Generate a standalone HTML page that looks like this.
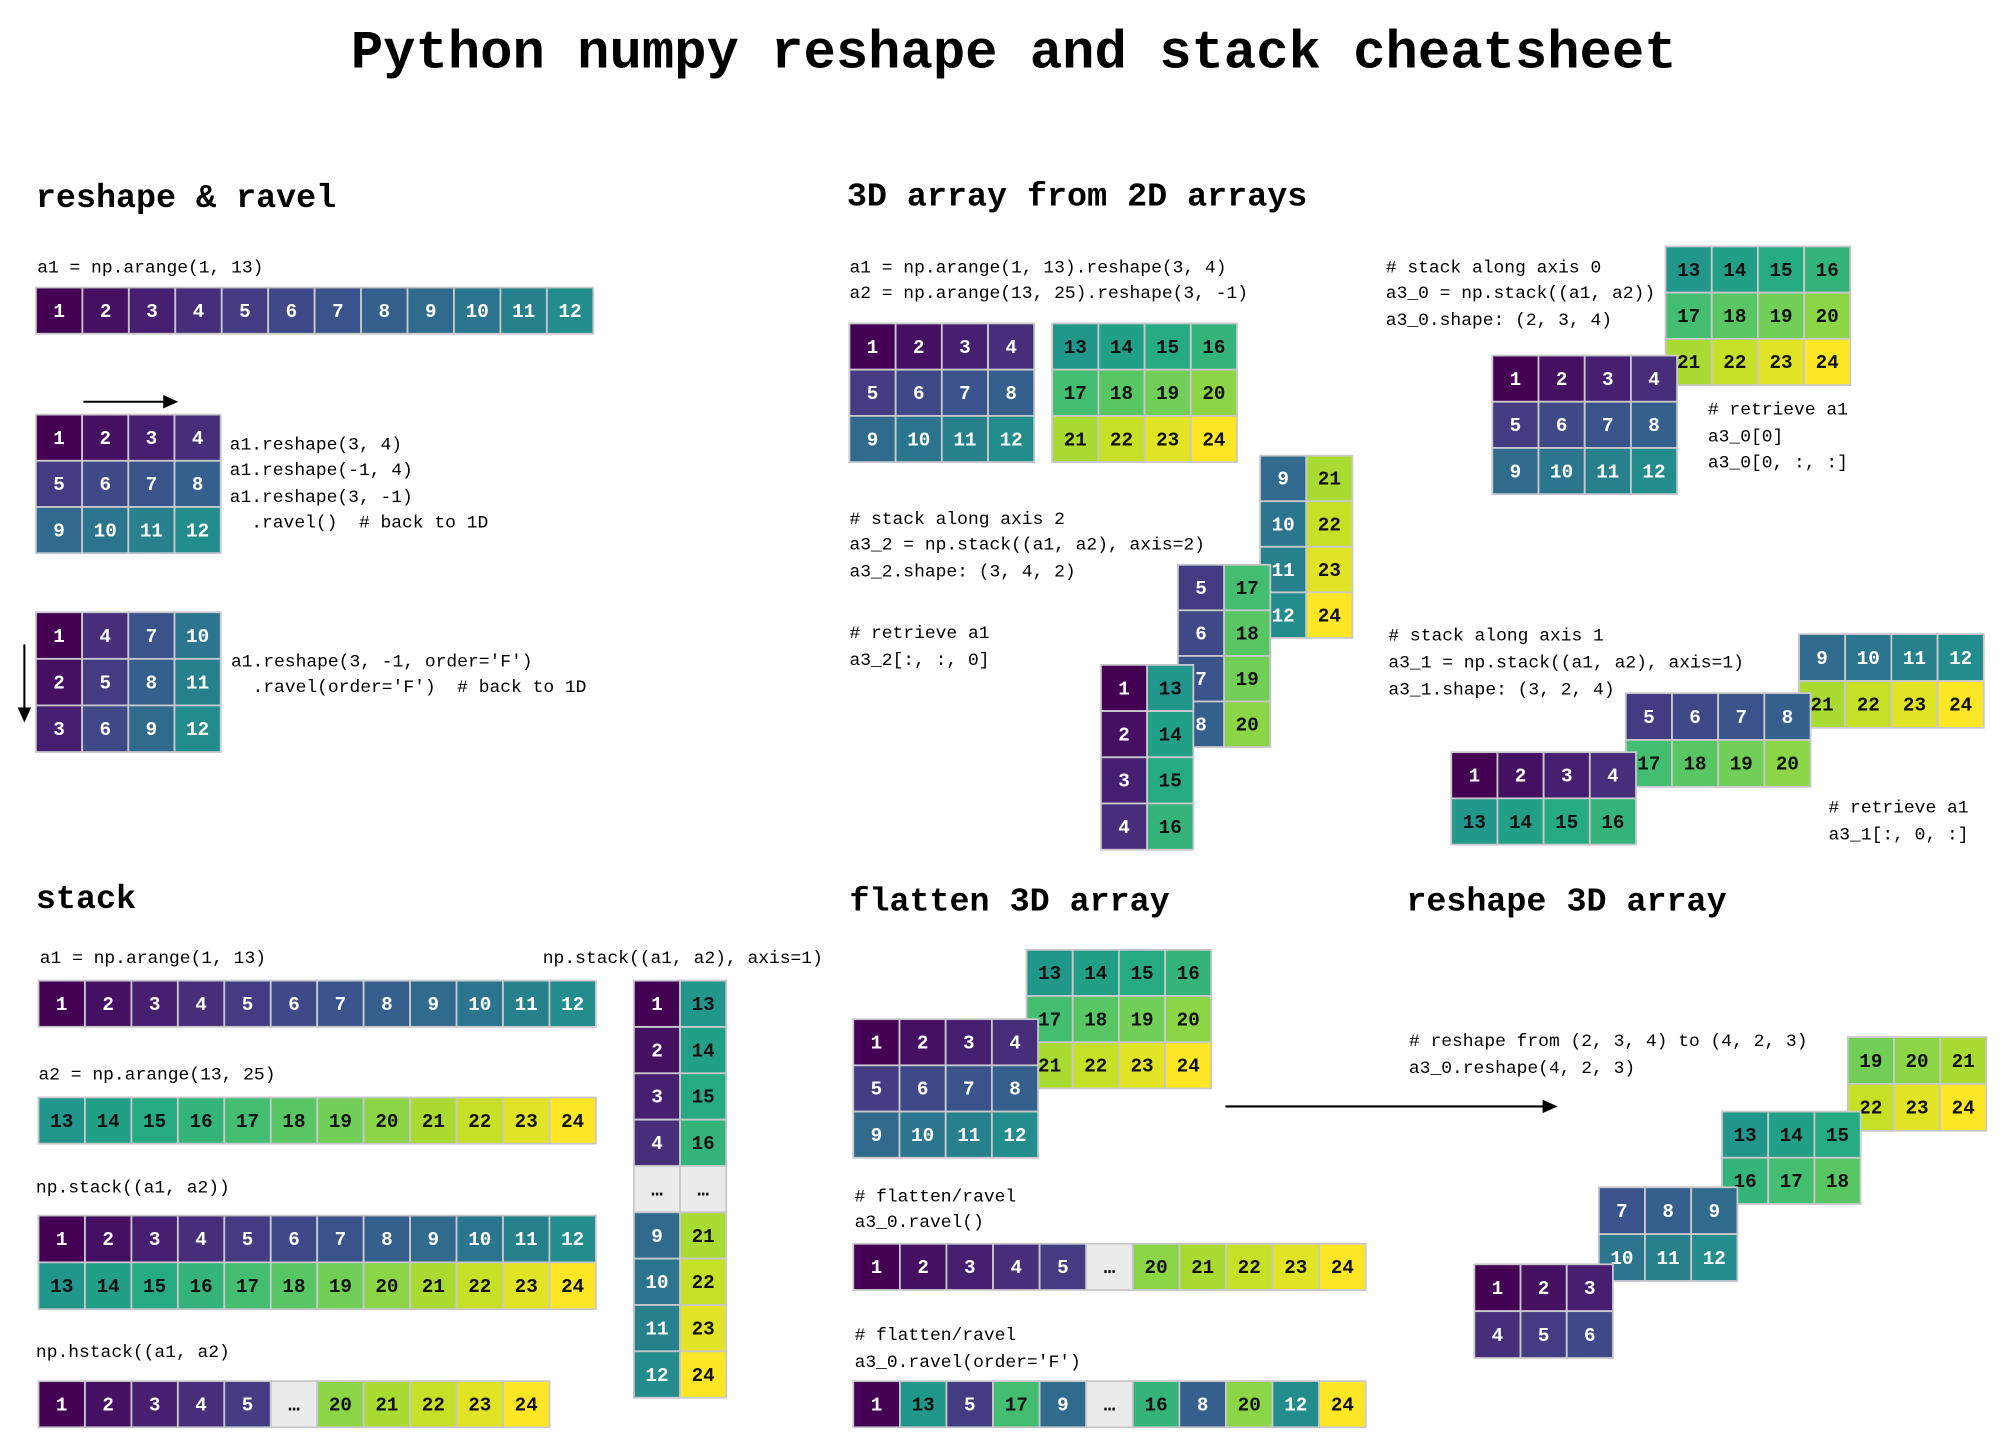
<!DOCTYPE html>
<html><head><meta charset="utf-8"><style>
html,body{margin:0;padding:0;background:#fff;}
svg{display:block;}
text{font-family:"Liberation Mono",monospace;}
</style></head><body>
<svg id="sheet" width="2012" height="1444" viewBox="0 0 1568 1125" preserveAspectRatio="none" xmlns="http://www.w3.org/2000/svg">
<rect width="1568" height="1125" fill="#fff"/>
<text x="790" y="42" font-size="42" font-weight="bold" text-anchor="middle" dominant-baseline="central">Python numpy reshape and stack cheatsheet</text>
<g id="texts"></g>
<g id="cells"></g>
<g id="arrows" stroke="#000" stroke-width="1.6" fill="#000">
<line x1="65" y1="313" x2="130" y2="313"/><polygon points="137,313 128,309 128,317"/>
<line x1="19" y1="502" x2="19" y2="553"/><polygon points="19,561 15,552 23,552"/>
<line x1="955" y1="862" x2="1204" y2="862"/><polygon points="1212,862 1203,858 1203,866"/>
</g>
</svg>
<script>
// ---- data arrays ----
const rowA1 = [1,2,3,4,5,6,7,8,9,10,11,12];
const rowA2 = [13,14,15,16,17,18,19,20,21,22,23,24];
const gridC = [[1,2,3,4],[5,6,7,8],[9,10,11,12]];
const gridF = [[1,4,7,10],[2,5,8,11],[3,6,9,12]];
const gridA2 = [[13,14,15,16],[17,18,19,20],[21,22,23,24]];
const ax2Back = [[9,21],[10,22],[11,23],[12,24]];
const ax2Mid = [[5,17],[6,18],[7,19],[8,20]];
const ax2Front = [[1,13],[2,14],[3,15],[4,16]];
const ax1Back = [[9,10,11,12],[21,22,23,24]];
const ax1Mid = [[5,6,7,8],[17,18,19,20]];
const ax1Front = [[1,2,3,4],[13,14,15,16]];
const hstackRow = [1,2,3,4,5,'…',20,21,22,23,24];
const stackCol = [[1,13],[2,14],[3,15],[4,16],['…','…'],[9,21],[10,22],[11,23],[12,24]];
const ravelC = [1,2,3,4,5,'…',20,21,22,23,24];
const ravelF = [1,13,5,17,9,'…',16,8,20,12,24];
const rs0 = [[19,20,21],[22,23,24]];
const rs1 = [[13,14,15],[16,17,18]];
const rs2 = [[7,8,9],[10,11,12]];
const rs3 = [[1,2,3],[4,5,6]];

const NS = "http://www.w3.org/2000/svg";
const vstops = ["#440154","#482475","#414487","#355f8d","#2a788e","#21918c","#22a884","#44bf70","#7ad151","#bddf26","#fde725"];
function hex(h){return [parseInt(h.substr(1,2),16),parseInt(h.substr(3,2),16),parseInt(h.substr(5,2),16)];}
function viridis(t){
  t=Math.max(0,Math.min(1,t))*10; const i=Math.min(9,Math.floor(t)); const f=t-i;
  const a=hex(vstops[i]), b=hex(vstops[i+1]);
  return "rgb("+a.map((v,k)=>Math.round(v+(b[k]-v)*f)).join(",")+")";
}
const cellsG = document.getElementById('cells');
function cell(x,y,w,h,v){
  const g=document.createElementNS(NS,'g');
  
  
  const r=document.createElementNS(NS,'rect');
  r.setAttribute('x',x);r.setAttribute('y',y);r.setAttribute('width',w);r.setAttribute('height',h);
  r.setAttribute('fill', v==='…' ? '#ebebeb' : viridis((v-1)/23));
  r.setAttribute('stroke','#c8c8cc');r.setAttribute('stroke-width','1.4');
  g.appendChild(r);
  const t=document.createElementNS(NS,'text');
  t.setAttribute('x',x+w/2);t.setAttribute('y',y+h/2+1);
  t.setAttribute('text-anchor','middle');t.setAttribute('dominant-baseline','central');
  t.setAttribute('font-size','15');t.setAttribute('font-weight','bold');
  t.setAttribute('fill', (v==='…'||v>=13)?'#111':'#fff');
  t.textContent=v;
  g.appendChild(t);
  cellsG.appendChild(g);
}
function grid(x,y,rows,w,h){
  w=w||36; h=h||36;
  rows.forEach((row,i)=>row.forEach((v,j)=>cell(x+j*w,y+i*h,w,h,v)));
}
const textsG=document.getElementById('texts');
function txt(x,y,s,size,bold,name){
  const t=document.createElementNS(NS,'text');
  t.setAttribute('x',x);t.setAttribute('y',y);t.setAttribute('dominant-baseline','central');
  t.setAttribute('font-size',size||14);
  if(bold)t.setAttribute('font-weight','bold');
  t.setAttribute('xml:space','preserve');
  t.style.whiteSpace='pre';
  
  
  t.textContent=s;
  textsG.appendChild(t);
}
// headings
txt(28,155,"reshape & ravel",26,true,'heading-reshape-ravel');
txt(660,154,"3D array from 2D arrays",26,true,'heading-3d-from-2d');
txt(28,701,"stack",26,true,'heading-stack');
txt(662,703,"flatten 3D array",26,true,'heading-flatten');
txt(1096,703,"reshape 3D array",26,true,'heading-reshape-3d');
// code texts
[[29,209,"a1 = np.arange(1, 13)"],[179,347,"a1.reshape(3, 4)"],[179,367,"a1.reshape(-1, 4)"],[179,388,"a1.reshape(3, -1)"],[179,408,"  .ravel()  # back to 1D"],
 [180,516,"a1.reshape(3, -1, order='F')"],[180,536,"  .ravel(order='F')  # back to 1D"],
 [662,209,"a1 = np.arange(1, 13).reshape(3, 4)"],[662,229,"a2 = np.arange(13, 25).reshape(3, -1)"],
 [662,405,"# stack along axis 2"],[662,425,"a3_2 = np.stack((a1, a2), axis=2)"],[662,446,"a3_2.shape: (3, 4, 2)"],
 [662,494,"# retrieve a1"],[662,515,"a3_2[:, :, 0]"],
 [1080,209,"# stack along axis 0"],[1080,229,"a3_0 = np.stack((a1, a2))"],[1080,250,"a3_0.shape: (2, 3, 4)"],
 [1331,320,"# retrieve a1"],[1331,341,"a3_0[0]"],[1331,361,"a3_0[0, :, :]"],
 [1082,496,"# stack along axis 1"],[1082,517,"a3_1 = np.stack((a1, a2), axis=1)"],[1082,538,"a3_1.shape: (3, 2, 4)"],
 [1425,630,"# retrieve a1"],[1425,651,"a3_1[:, 0, :]"],
 [31,747,"a1 = np.arange(1, 13)"],[30,838,"a2 = np.arange(13, 25)"],[28,926,"np.stack((a1, a2))"],[28,1054,"np.hstack((a1, a2)"],
 [423,747,"np.stack((a1, a2), axis=1)"],
 [666,933,"# flatten/ravel"],[666,953,"a3_0.ravel()"],[666,1041,"# flatten/ravel"],[666,1062,"a3_0.ravel(order='F')"],
 [1098,812,"# reshape from (2, 3, 4) to (4, 2, 3)"],[1098,833,"a3_0.reshape(4, 2, 3)"]
].forEach(a=>txt(a[0],a[1],a[2],14,false));
// reshape & ravel
grid(28,224,[rowA1],36.2,36);
grid(28,323,gridC,36,36);
grid(28,477,gridF,36,36.3);
// 3D from 2D
grid(662,252,gridC,36,36);
grid(820,252,gridA2,36,36);
grid(982,355,ax2Back,36,35.5);
grid(918,440,ax2Mid,36,35.5);
grid(858,518,ax2Front,36,36);
grid(1298,192,gridA2,36,36);
grid(1163,277,gridC,36,36);
grid(1402,494,ax1Back,36,36.5);
grid(1267,540,ax1Mid,36,36.5);
grid(1131,586,ax1Front,36,36);
// stack
grid(30,764,[rowA1],36.2,36);
grid(30,855,[rowA2],36.2,36);
grid(30,947,[rowA1,rowA2],36.2,36.5);
grid(30,1076,[hstackRow],36.2,36);
grid(494,764,stackCol,36,36.1);
// flatten
grid(800,740,gridA2,36,36);
grid(665,794,gridC,36,36);
grid(665,969,[ravelC],36.3,36);
grid(665,1076,[ravelF],36.3,36);
// reshape 3D
grid(1440,808,rs0,36,36.5);
grid(1342,866,rs1,36,36);
grid(1246,925,rs2,36,36.5);
grid(1149,985,rs3,36,36.5);
</script>
</body></html>
